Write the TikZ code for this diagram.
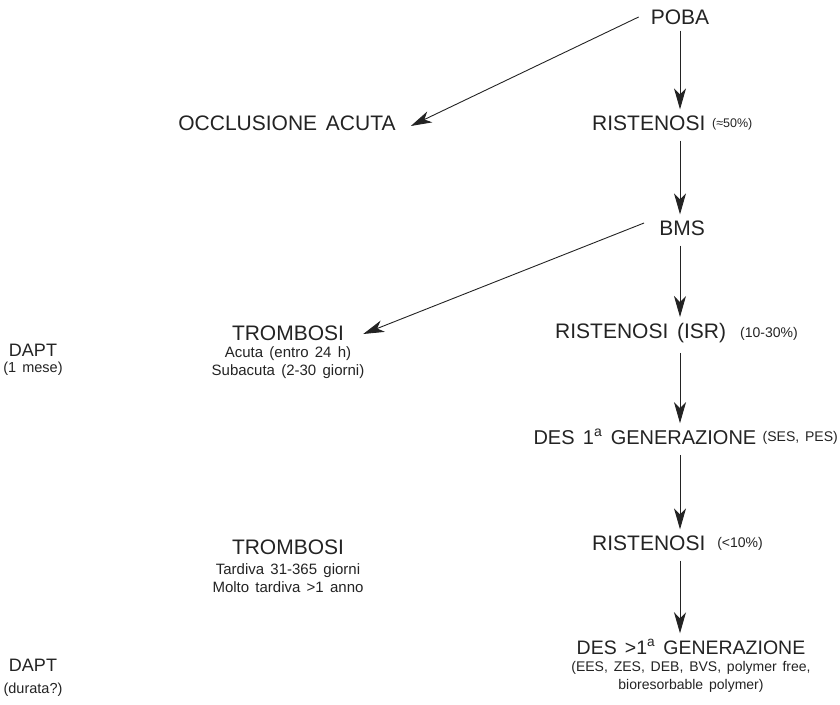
\documentclass[tikz,border=0pt]{standalone}
\usepackage{fontspec}
\setmainfont{Liberation Sans}[WordSpace=1.5]
\usetikzlibrary{arrows.meta}
\definecolor{inkgray}{RGB}{35,35,35}
\begin{document}
\begin{tikzpicture}[x=1pt,y=-1pt,
  big/.style={inner sep=0pt,text=inkgray,font=\fontsize{21}{24}\selectfont},
  small/.style={inner sep=0pt,text=inkgray,font=\fontsize{15}{18}\selectfont,align=center},
  pct/.style={inner sep=0pt,text=inkgray,font=\fontsize{14}{17}\selectfont},
  arr/.style={draw=inkgray,line width=0.9pt,-{Stealth[length=21pt,width=12pt,inset=6pt]}}]
\useasboundingbox (0,0) rectangle (840,704);

% Text Node
\node[big] (poba) at (680,17) {POBA};
\node[big] (occl) at (287,123) {OCCLUSIONE ACUTA};
\node[big,anchor=west] (ristA) at (592,123) {RISTENOSI};
\node[pct,anchor=west,font=\fontsize{12.5}{14}\selectfont] (ristApct) at (712,124) {(≈50\%)};
\node[big] (bms) at (682,228) {BMS};

% Text Node
\node[big] (trombA) at (288,333) {TROMBOSI};
\node[small,anchor=north] (trombAsub) at (288,346) {Acuta (entro 24 h)\\Subacuta (2-30 giorni)};
\node[big,anchor=west] (ristB) at (555,333) {RISTENOSI (ISR)};
\node[pct,anchor=east] (ristBpct) at (798,334) {(10-30\%)};
\node[big,font=\fontsize{18}{20}\selectfont] (daptA) at (33,350) {DAPT};
\node[small,font=\fontsize{14.5}{15}\selectfont] (daptAsub) at (33,369) {(1 mese)};

% Text Node
\node[pct,anchor=east] (desApct) at (838,438) {(SES, PES)};
\node[big,anchor=east,font=\fontsize{20}{24}\selectfont] (desA) at ([xshift=-6pt]desApct.west |- 0,437) {DES 1\textsuperscript{a} GENERAZIONE};

% Text Node
\node[big] (trombB) at (288,547) {TROMBOSI};
\node[small,anchor=north] (trombBsub) at (288,563) {Tardiva 31-365 giorni\\Molto tardiva >1 anno};
\node[big,anchor=west] (ristC) at (592,543) {RISTENOSI};
\node[pct,anchor=east] (ristCpct) at (763,544) {(<10\%)};

% Text Node
\node[big,font=\fontsize{19.5}{24}\selectfont] (desB) at (691,647) {DES >1\textsuperscript{a} GENERAZIONE};
\node[small,font=\fontsize{14}{18}\selectfont,anchor=north] (desBsub) at (691,661) {(EES, ZES, DEB, BVS, polymer free,\\bioresorbable polymer)};
\node[big,font=\fontsize{18}{20}\selectfont] (daptB) at (33,665) {DAPT};
\node[small,font=\fontsize{14.5}{15}\selectfont] (daptBsub) at (33,690) {(durata?)};

%Straight Lines
\draw[arr] (poba.south) ++(0,6) -- ([yshift=6pt]ristA.north -| poba);
\draw[arr] (poba.south |- ristA.south) ++(0,10) -- ([yshift=6pt]bms.north -| poba);
\draw[arr] (bms.south -| poba) ++(0,10) -- ([yshift=6pt]ristB.north -| poba);
\draw[arr] (ristB.south -| poba) ++(0,10) -- ([yshift=6pt]desA.north -| poba);
\draw[arr] (desA.south -| poba) ++(0,10) -- ([yshift=6pt]ristC.north -| poba);
\draw[arr] (ristC.south -| poba) ++(0,10) -- ([yshift=6pt]desB.north -| poba);

%Straight Lines
\draw[arr] ([xshift=-12pt]poba.west) -- ([xshift=15pt,yshift=-3pt]occl.east);
\draw[arr] ([xshift=-15pt,yshift=5pt]bms.west) -- ([xshift=19pt,yshift=-1pt]trombA.east);

\end{tikzpicture}
\end{document}
